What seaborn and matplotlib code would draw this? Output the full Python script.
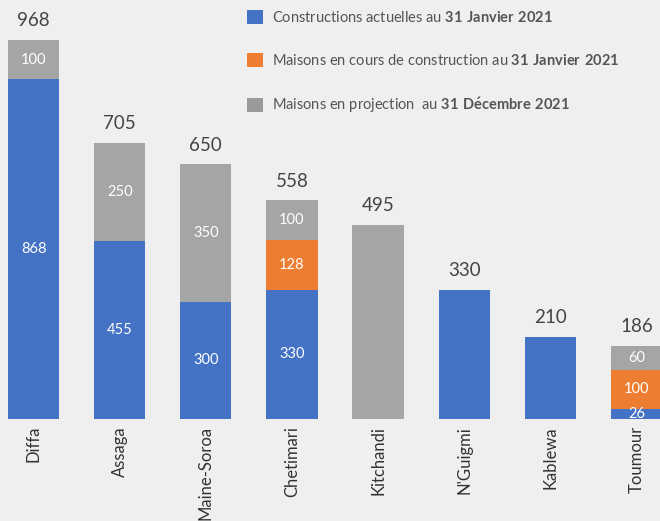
import matplotlib

matplotlib.use("Agg")
import matplotlib.pyplot as plt
import pandas as pd
import seaborn as sns
from matplotlib.patches import Patch

communes = ["Diffa", "Assaga", "Maine-Soroa", "Chetimari", "Kitchandi", "N'Guigmi", "Kablewa", "Toumour"]
actuelles = [868, 455, 300, 330, 0, 330, 210, 26]
en_cours = [0, 0, 0, 128, 0, 0, 0, 100]
projection = [100, 250, 350, 100, 495, 0, 0, 60]

series_labels = [
    r"Constructions actuelles au $\mathbf{31\ Janvier\ 2021}$",
    r"Maisons en cours de construction au $\mathbf{31\ Janvier\ 2021}$",
    r"Maisons en projection  au $\mathbf{31\ D\acute{e}cembre\ 2021}$",
]
BLUE, ORANGE, GRAY = "#4472C4", "#ED7D31", "#A5A5A5"
BG = "#EEEFEE"

sns.set_theme(style="white")
plt.rcParams["font.family"] = ["Lato", "DejaVu Sans"]
plt.rcParams["mathtext.fontset"] = "custom"
plt.rcParams["mathtext.rm"] = "Lato"
plt.rcParams["mathtext.bf"] = "Lato:bold"

frame = pd.DataFrame({"commune": communes, "a": actuelles, "b": en_cours, "c": projection})
frame["ab"] = frame["a"] + frame["b"]
frame["total"] = frame["ab"] + frame["c"]

fig = plt.figure(figsize=(6.6, 5.21), dpi=100, facecolor=BG)
ax = fig.add_axes([0, 102 / 521, 1, 419 / 521])
ax.set_facecolor(BG)

# cumulative layering: total (gray) behind, then blue+orange, then blue
for col, color in [("total", GRAY), ("ab", ORANGE), ("a", BLUE)]:
    sns.barplot(data=frame, x="commune", y=col, color=color, width=0.595,
                saturation=1, ax=ax, linewidth=0)

ax.set_xlim(-0.39, 7.273)
ax.set_ylim(0, 1070)
for spine in ax.spines.values():
    spine.set_visible(False)
ax.set_yticks([])
ax.set_xlabel("")
ax.set_ylabel("")
ax.tick_params(axis="x", length=0, pad=5, labelsize=12, labelcolor="#333333", rotation=90)

for i, row in frame.iterrows():
    segs = [(0, row["a"]), (row["a"], row["b"]), (row["ab"], row["c"])]
    segs = [s for s in segs if s[1] > 0]
    if len(segs) > 1:
        for base, h in segs:
            ax.text(i, base + h / 2, f"{h}", ha="center", va="center",
                    color="white", fontsize=10.5)
    ax.annotate(f"{row['total']}", (i, row["total"]), xytext=(0, 10),
                textcoords="offset points", ha="center", va="baseline",
                fontsize=13.5, color="#444444")

handles = [Patch(facecolor=c, edgecolor="none") for c in (BLUE, ORANGE, "#999A9B")]
fig.legend(handles, series_labels, loc="upper left",
           bbox_to_anchor=(247 / 660, 1 - 10 / 521), frameon=False,
           fontsize=10.5, labelcolor="#555555", handlelength=1.1, handleheight=1.1,
           handletextpad=0.6, labelspacing=1.92, borderpad=0, borderaxespad=0)

fig.savefig("out.png", dpi=100, facecolor=BG)
